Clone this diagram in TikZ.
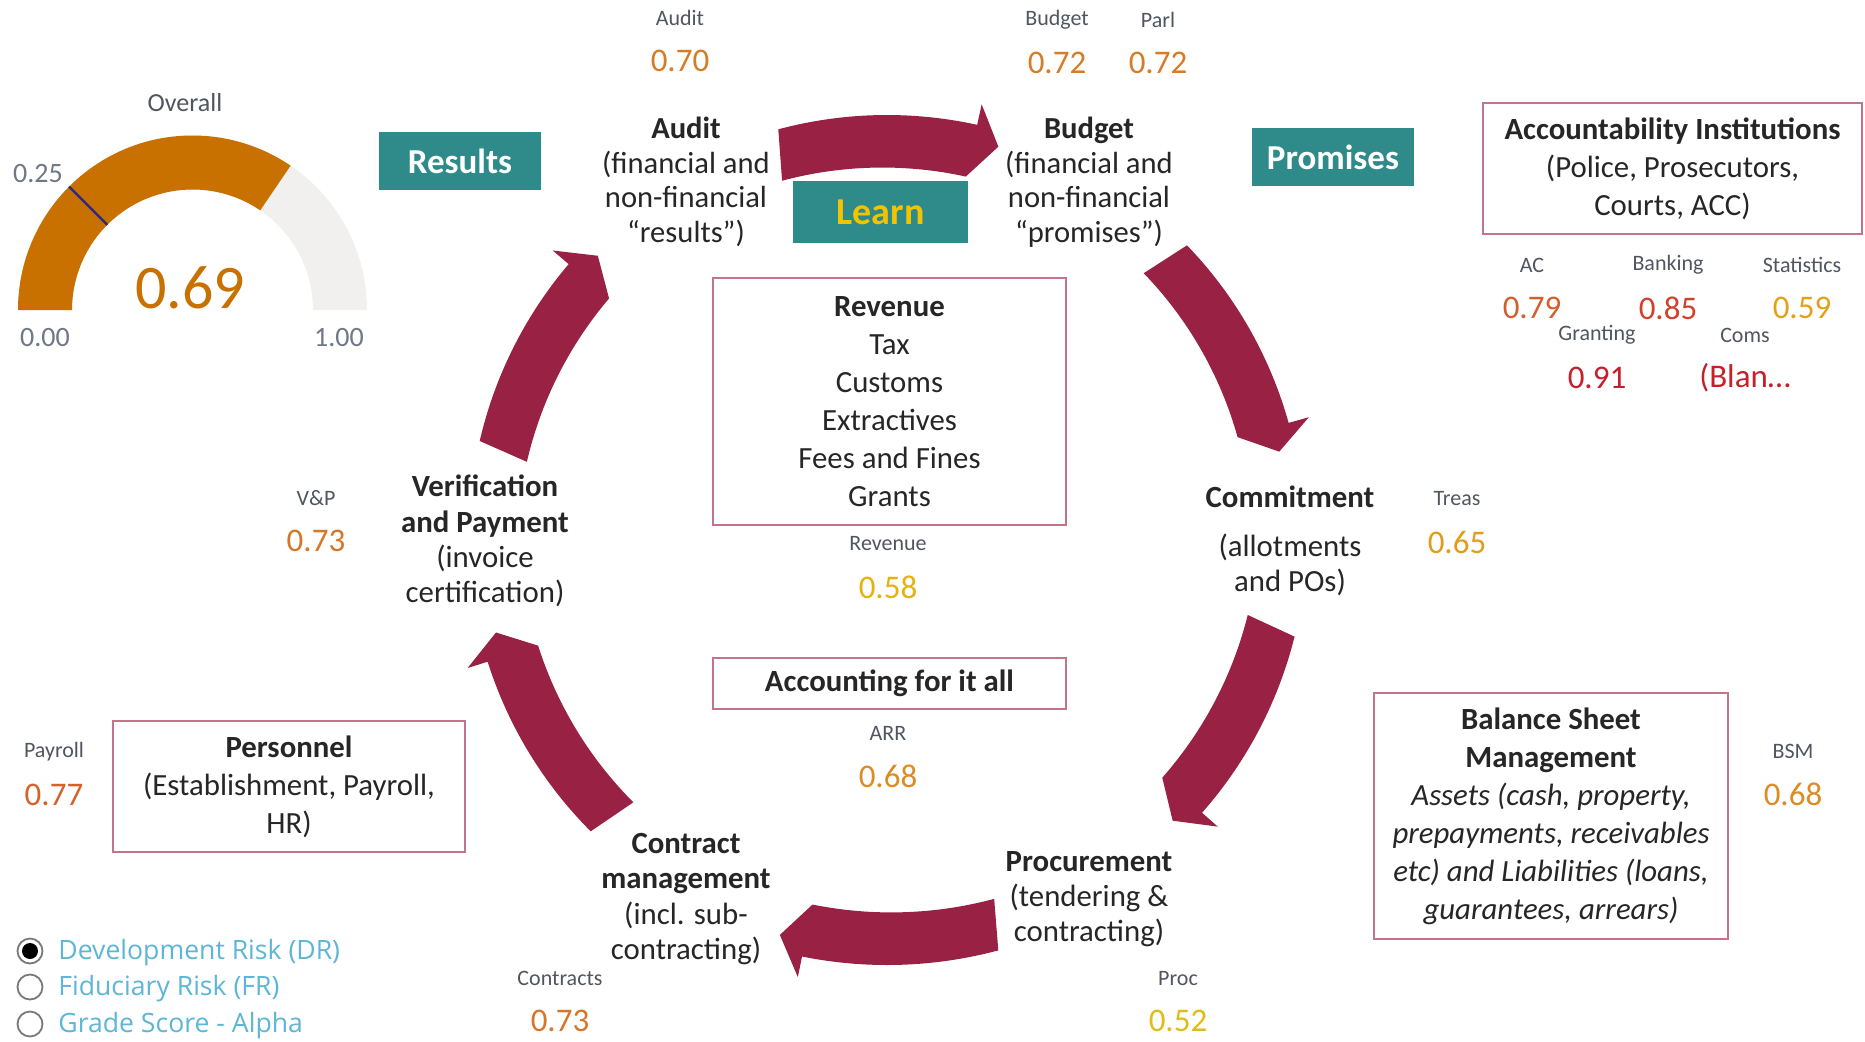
\documentclass[tikz,border=0pt]{standalone}
\usepackage{fontspec}
\setmainfont{Carlito}
\newfontfamily\legendfont{Open Sans}
\usetikzlibrary{positioning}

\definecolor{ink}{RGB}{38,38,38}
\definecolor{crimson}{RGB}{152,33,68}
\definecolor{tealbox}{RGB}{47,139,137}
\definecolor{learnyellow}{RGB}{242,196,0}
\definecolor{boxline}{RGB}{196,116,138}
\definecolor{gaugeorange}{RGB}{200,112,0}
\definecolor{gaugegrey}{RGB}{241,240,239}
\definecolor{gaugemark}{RGB}{40,40,130}
\definecolor{axisgrey}{RGB}{110,120,135}
\definecolor{cardlabel}{RGB}{80,86,96}
\definecolor{legendblue}{RGB}{94,182,214}
\definecolor{radiogrey}{RGB}{120,120,120}
% score colours
\definecolor{sc52}{RGB}{224,188,22}
\definecolor{sc58}{RGB}{230,178,12}
\definecolor{sc59}{RGB}{226,162,24}
\definecolor{sc65}{RGB}{226,156,28}
\definecolor{sc68}{RGB}{220,140,34}
\definecolor{sc70}{RGB}{214,124,38}
\definecolor{sc73}{RGB}{214,118,40}
\definecolor{sc77}{RGB}{212,98,42}
\definecolor{sc79}{RGB}{212,94,44}
\definecolor{sc85}{RGB}{208,66,46}
\definecolor{sc91}{RGB}{198,32,44}

\begin{document}
\begin{tikzpicture}[
  x=0.5pt, y=-0.5pt,
  stage/.style={align=center,text=ink,inner sep=0pt,font=\fontsize{15.4}{17.6}\selectfont},
  stagesm/.style={stage,font=\fontsize{15.3}{17.25}\selectfont},
  frame/.style={draw=boxline,line width=1pt,align=center,text=ink,inner sep=0pt,font=\fontsize{15.4}{19}\selectfont},
  tag/.style={fill=tealbox,inner sep=0pt,minimum width=81pt,minimum height=29pt,text=white,font=\bfseries\fontsize{17.5}{20}\selectfont},
  cardlbl/.style={text=cardlabel,font=\fontsize{11}{13}\selectfont},
  cardval/.style={font=\fontsize{16.5}{19}\selectfont},
  axislbl/.style={text=axisgrey,font=\fontsize{14}{16}\selectfont},
  radio/.style={circle,draw=radiogrey,line width=0.9pt,minimum size=12.5pt,inner sep=0pt},
  legtxt/.style={anchor=west,inner sep=0pt,text=legendblue,font=\legendfont\fontsize{13.3}{15}\selectfont},
]
\useasboundingbox (0,0) rectangle (1865,1041);
\fill[white] (0,0) rectangle (1865,1041);
% overall gauge
\coordinate (gc) at (192.5,310);
\begin{scope}[shift={(gc)}]
  \fill[gaugegrey] (180:174.5) arc[start angle=180,end angle=360,radius=174.5] -- (0:120.5) arc[start angle=360,end angle=180,radius=120.5] -- cycle;
  \fill[gaugeorange] (180:174.5) arc[start angle=180,end angle=304.2,radius=174.5] -- (304.2:120.5) arc[start angle=304.2,end angle=180,radius=120.5] -- cycle;
  \draw[gaugemark,line width=1.1pt] (225:120.5) -- (225:174.5);
\end{scope}
\node[text=cardlabel,font=\fontsize{13}{15}\selectfont] (overall) at (185,103) {Overall};
\node[text=gaugeorange,font=\fontsize{31}{34}\selectfont] (gval) at (190,288) {0.69};
\node[axislbl] (g25) at (38,174) {0.25};
\node[axislbl] (g00) at (45,338) {0.00};
\node[axislbl] (g100) at (339,338) {1.00};
% cycle arrows
\coordinate (cyc) at (887,535);
\begin{scope}[shift={(cyc)}]
\foreach \a/\b/\r in {193/224/402, 255/286/404, 316/348/401, 14/45/404, 75/105/414, 135/166/403}{
  \pgfmathsetmacro\h{\b-3.6}
  \pgfmathsetmacro\ro{\r+16}
  \pgfmathsetmacro\ri{\r-16}
  \pgfmathsetmacro\bo{\r+37}
  \pgfmathsetmacro\bi{\r-37}
  \fill[crimson] (\a:\ro) arc[start angle=\a,end angle=\h,radius=\ro] -- (\h:\bo) -- (\b:\r) -- (\h:\bi) arc[start angle=\h,end angle=\a,radius=\ri] -- cycle;
}
\end{scope}
% stages of the cycle
\node[stagesm] (audit) at (686,182) {\textbf{Audit}\\(financial and\\non-financial\\``results'')};
\node[stagesm] (budget) at (1089,182) {\textbf{Budget}\\(financial and\\non-financial\\``promises'')};
\node[stage] (verif) at (485,541) {\textbf{Verification}\\\textbf{and Payment}\\(invoice\\certification)};
\node[stage] (commit) at (1290,541) {\textbf{Commitment}\\[7pt](allotments\\and POs)};
\node[stage] (procure) at (1089,899) {\textbf{Procurement}\\(tendering \&\\contracting)};
\node[stage] (contract) at (686,899) {\textbf{Contract}\\\textbf{management}\\(incl. sub-\\contracting)};
% teal tags
\node[tag] (results) at (460,161) {Results};
\node[tag,minimum width=87.5pt,minimum height=31pt,text=learnyellow,font=\bfseries\fontsize{19}{22}\selectfont] (learn) at (880.5,212) {Learn};
\node[tag] (promises) at (1333,157) {Promises};
% framed boxes
\node[frame,minimum width=189.5pt,minimum height=65.5pt] (acct) at (1672.5,168.5) {\textbf{Accountability Institutions}\\(Police, Prosecutors,\\Courts, ACC)};
\node[frame,minimum width=176.5pt,minimum height=123.5pt] (revenue) at (889.5,401.5) {\textbf{Revenue}\\Tax\\Customs\\Extractives\\Fees and Fines\\Grants};
\node[frame,minimum width=176.5pt,minimum height=25.5pt] (arrbox) at (889.5,683.5) {\textbf{Accounting for it all}};
\node[frame,minimum width=177pt,minimum height=123pt] (bsmbox) at (1551,816) {\textbf{Balance Sheet}\\\textbf{Management}\\\textit{Assets (cash, property,}\\\textit{prepayments, receivables}\\\textit{etc) and Liabilities (loans,}\\\textit{guarantees, arrears)}};
\node[frame,minimum width=176pt,minimum height=65.5pt] (personnel) at (289,786.5) {\textbf{Personnel}\\(Establishment, Payroll,\\HR)};
% score cards
\foreach \n/\lab/\val/\col/\x/\y in {aud/Audit/0.70/sc70/680/18, bud/Budget/0.72/sc70/1057/20, parl/Parl/0.72/sc70/1158/20,
  vp/V\&P/0.73/sc73/316/498, treas/Treas/0.65/sc65/1457/499, rev/Revenue/0.58/sc58/888/544, arr/ARR/0.68/sc68/888/733,
  ac/AC/0.79/sc79/1532/265, bank/Banking/0.85/sc85/1668/265, stat/Statistics/0.59/sc59/1802/265,
  grant/Granting/0.91/sc91/1597/335, coms/Coms/(Blan…/sc91/1745/335, bsm/BSM/0.68/sc68/1793/751,
  pay/Payroll/0.77/sc77/54/752, contr/Contracts/0.73/sc73/560/978, proc/Proc/0.52/sc52/1178/978}{
  \node[cardlbl] (\n-lbl) at (\x,\y) {\lab};
  \node[cardval,text=\col] (\n-val) at (\x,\y+43) {\val};
}
% legend
\node[radio] (dr) at (30,951) {};
\node[circle,fill=black,minimum size=8pt,inner sep=0pt] (drdot) at (dr) {};
\node[radio] (fr) at (30,987) {};
\node[radio] (gs) at (30,1024) {};
\node[legtxt] (drtxt) at (58,953) {Development Risk (DR)};
\node[legtxt] (frtxt) at (58,989) {Fiduciary Risk (FR)};
\node[legtxt] (gstxt) at (58,1026) {Grade Score - Alpha};
\end{tikzpicture}
\end{document}
